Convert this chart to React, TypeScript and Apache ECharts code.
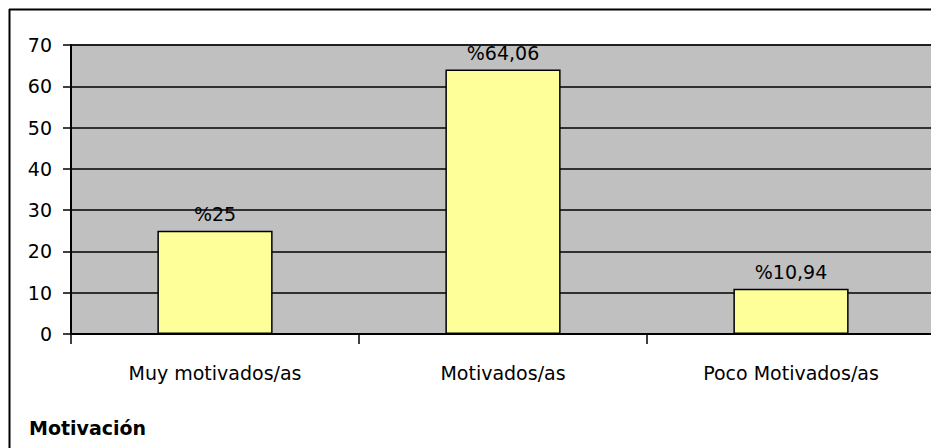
import React, { useEffect, useRef } from "react";
import * as echarts from "echarts";

const categories = ["Muy motivados/as", "Motivados/as", "Poco Motivados/as"];
const values = [25, 64.06, 10.94];
const valueLabels = ["%25", "%64,06", "%10,94"];
const yTicks = { min: 0, max: 70, interval: 10 };
const title = "Motivación";

export default function App() {
  const ref = useRef<HTMLDivElement>(null);
  useEffect(() => {
    if (!ref.current) return;
    const chart = echarts.init(ref.current, null, { renderer: "svg" });
    const font = "'DejaVu Sans', Verdana, sans-serif";
    const fs = 19;
    chart.setOption({
      animation: false,
      backgroundColor: "#ffffff",
      textStyle: { fontFamily: font },
      title: {
        text: title,
        left: 16,
        top: 405,
        textStyle: { fontFamily: font, fontSize: fs, fontWeight: "bold", color: "#000" },
      },
      grid: {
        left: 63,
        top: 37,
        width: 864,
        height: 289,
        show: true,
        backgroundColor: "#C0C0C0",
        borderColor: "#808080",
        borderWidth: 2,
      },
      xAxis: {
        type: "category",
        data: categories,
        axisLine: { show: true, lineStyle: { color: "#000", width: 2 } },
        axisTick: { show: true, length: 10, lineStyle: { color: "#000", width: 1.5 } },
        axisLabel: { margin: 29, fontSize: fs, color: "#000", fontFamily: font },
      },
      yAxis: {
        type: "value",
        min: yTicks.min,
        max: yTicks.max,
        interval: yTicks.interval,
        axisLine: { show: true, lineStyle: { color: "#000", width: 2 } },
        axisTick: { show: true, length: 8, lineStyle: { color: "#000", width: 1.5 } },
        axisLabel: { margin: 19, fontSize: fs, color: "#000", fontFamily: font },
        splitLine: { show: true, lineStyle: { color: "#000", width: 1.5 } },
      },
      graphic: [
        { type: "line", shape: { x1: 1, y1: 1.5, x2: 940, y2: 1.5 }, style: { stroke: "#000", lineWidth: 2 } },
        { type: "line", shape: { x1: 1.5, y1: 1, x2: 1.5, y2: 448 }, style: { stroke: "#000", lineWidth: 2 } },
      ],
      series: [
        {
          type: "bar",
          data: values,
          barCategoryGap: "60%",
          itemStyle: { color: "#FFFF99", borderColor: "#000", borderWidth: 1.5 },
          label: {
            show: true,
            position: "top",
            distance: 7,
            fontSize: fs,
            color: "#000",
            fontFamily: font,
            formatter: (p: any) => valueLabels[p.dataIndex],
          },
        },
      ],
    });
    return () => chart.dispose();
  }, []);
  return <div ref={ref} style={{ width: 931, height: 440 }} />;
}
